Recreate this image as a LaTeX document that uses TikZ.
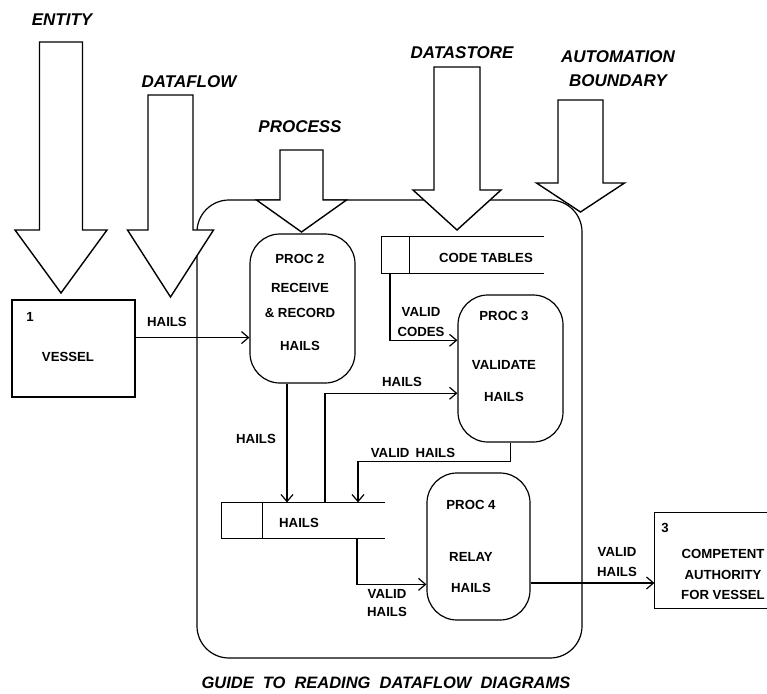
\documentclass[tikz,border=0pt]{standalone}
\usepackage{fontspec}
\setmainfont{Liberation Sans}
\usetikzlibrary{arrows.meta}
\begin{document}
\begin{tikzpicture}[x=1pt, y=-1pt, line width=1.2pt,
    txt/.style={font=\fontsize{13.2}{14}\selectfont\bfseries, inner sep=0pt, align=center},
    tag/.style={font=\fontsize{17}{18}\selectfont\bfseries\itshape, inner sep=0pt, align=center},
    proc/.style={draw, rounded corners=30, inner sep=0pt},
    ent/.style={draw, inner sep=0pt},
    store/.style={inner sep=0pt},
    flow/.style={-{Straight Barb[length=7pt,width=12pt]}},
    pointer/.style={draw, fill=white, line width=1.4pt}]
    \useasboundingbox (0,0) rectangle (767,693);

    % Automation boundary
    \node[draw, rounded corners=32, minimum width=385, minimum height=458] (boundary) at (389.5,429) {};

    % Pointers
    \foreach \ax/\aw/\ay/\ab/\ah/\ac in {61/21.5/42/230/46/293, 170.5/22.5/95/230/43/297,
        301.5/21.5/150/200/45/232, 457/23/67/190/44/230, 580.5/22.5/100/183/44/212}
        \draw[pointer] (\ax-\aw,\ay) -- (\ax+\aw,\ay) -- (\ax+\aw,\ab) -- (\ax+\ah,\ab)
            -- (\ax,\ac) -- (\ax-\ah,\ab) -- (\ax-\aw,\ab) -- cycle;
    \node[tag] (entity) at (62,20) {ENTITY};
    \node[tag] (dataflow) at (189,82) {DATAFLOW};
    \node[tag] (process) at (300,127) {PROCESS};
    \node[tag] (datastore) at (462,53) {DATASTORE};
    \node[tag] (automation) at (618,69) {AUTOMATION\\[6pt]BOUNDARY};

    % Entities
    \node[ent, minimum width=123, minimum height=97] (vessel) at (73.5,348.5) {};
    \node[txt] (n1) at (30,317) {1};
    \node[txt] (vesselt) at (68,357) {VESSEL};
    \node[store, minimum width=120, minimum height=95] (auth) at (715,560.5) {};
    \draw (auth.north east) -- (auth.north west) -- (auth.south west) -- (auth.south east);
    \node[txt] (n3) at (665,528) {3};
    \node[txt] (autht) at (723,574) {COMPETENT\\[7pt]AUTHORITY\\[6pt]FOR VESSEL};

    % Processes
    \node[proc, minimum width=105, minimum height=149] (proc2) at (302.5,308.5) {};
    \node[txt] (proc2t) at (300,302.5) {PROC 2\\[15pt]RECEIVE\\[11pt]\& RECORD\\[19pt]HAILS};
    \node[proc, minimum width=105, minimum height=147] (proc3) at (510.5,368.5) {};
    \node[txt] (proc3t) at (504,356.5) {PROC 3\\[35pt]VALIDATE\\[18pt]HAILS};
    \node[proc, minimum width=103, minimum height=147] (proc4) at (478.5,546.5) {};
    \node[txt] (proc4t) at (471,546.5) {PROC 4\\[38pt]RELAY\\[17pt]HAILS};

    % Datastores
    \node[store, minimum width=161, minimum height=36] (codes) at (462.5,255) {};
    \draw (codes.north east) -- (codes.north west) -- (codes.south west) -- (codes.south east);
    \draw ([xshift=28]codes.north west) -- ([xshift=28]codes.south west);
    \node[txt] (codest) at (486,258) {CODE TABLES};
    \node[store, minimum width=162, minimum height=35] (hails) at (303,520.5) {};
    \draw (hails.north east) -- (hails.north west) -- (hails.south west) -- (hails.south east);
    \draw ([xshift=41]hails.north west) -- ([xshift=41]hails.south west);
    \node[txt] (hailst) at (299,523) {HAILS};

    % Dataflows
    \draw[flow] (vessel.10) -- (vessel.10 -| proc2.west);
    \draw[flow] ([xshift=-15.5]proc2.south) -- ([xshift=-15.5]proc2.south |- hails.north);
    \draw[flow] ([xshift=22]hails.north) |- (proc3.205);
    \draw[flow] (proc3.south) -- ++(0,19) -| ([xshift=55]hails.north);
    \draw[flow] ([xshift=54]hails.south) |- (proc4.216);
    \draw[flow] (proc4.325) -- (proc4.325 -| auth.west);
    \draw[flow] ([xshift=-72.5]codes.south) |- (proc3.152);
    \node[txt] (l1) at (167,322) {HAILS};
    \node[txt] (l2) at (256,439) {HAILS};
    \node[txt] (l3) at (402,382) {HAILS};
    \node[txt] (l4) at (413,453) {VALID\hspace{6pt}HAILS};
    \node[txt] (l5) at (387,603) {VALID\\[4pt]HAILS};
    \node[txt] (l6) at (617,562) {VALID\\[6pt]HAILS};
    \node[txt] (l7) at (421,322) {VALID\\[6pt]CODES};

    % Title
    \node[tag, font=\fontsize{16.5}{19}\selectfont\bfseries\itshape] (title) at (386,683)
        {GUIDE\hspace{9pt}TO\hspace{9pt}READING\hspace{9pt}DATAFLOW\hspace{9pt}DIAGRAMS};
\end{tikzpicture}
\end{document}
